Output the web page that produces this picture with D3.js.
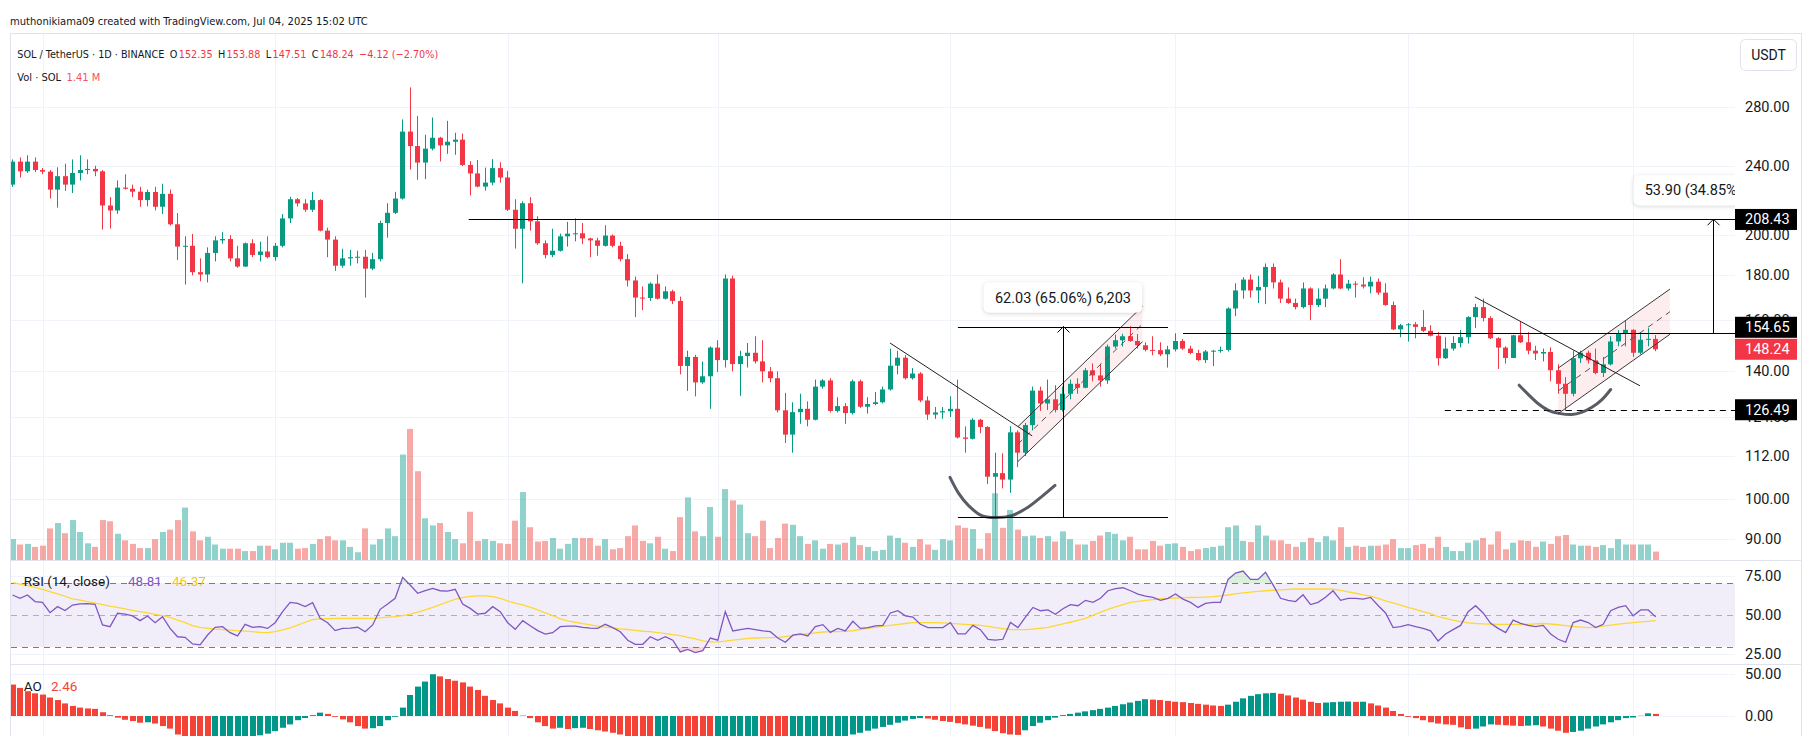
<!DOCTYPE html>
<html><head><meta charset="utf-8">
<script src="https://cdn.jsdelivr.net/npm/d3@7"></script>
<style>
body{margin:0;background:#fff;}
svg{display:block;font-family:Roboto,"Trebuchet MS",sans-serif;}
</style></head><body>
<svg id="c" width="1814" height="736"></svg>
<script>
// ---------------- DATA ----------------
const opens=[228.4,242.6,236.5,242.6,237.3,236.3,225.4,233.5,228.4,235.5,
237.3,238.0,236.5,216.2,213.4,226.6,225.9,224.2,219.3,224.0,
215.5,222.9,205.8,194.1,194.5,181.5,180.4,190.9,197.3,198.0,
188.2,184.2,195.8,189.9,191.6,188.8,194.5,209.0,219.8,217.4,
213.8,219.3,202.4,197.7,184.6,188.2,188.8,189.0,183.2,187.8,
206.5,212.1,220.2,262.5,252.7,242.0,251.0,258.3,253.2,255.6,
257.0,240.5,235.2,227.2,229.6,238.5,232.7,213.8,203.4,217.5,
207.4,195.8,189.9,192.0,199.4,200.8,201.0,198.3,197.3,194.5,
199.8,194.5,187.8,177.6,169.8,169.6,176.1,169.3,172.6,168.3,
141.9,145.3,135.9,138.1,148.9,144.1,178.5,142.6,145.6,146.9,
143.6,139.9,137.4,126.3,118.5,125.7,126.8,123.2,134.4,136.6,
126.1,127.7,125.4,136.3,127.5,128.4,129.0,133.4,142.0,145.0,
137.4,139.1,129.6,124.9,125.6,126.0,126.8,117.6,117.2,123.2,
120.9,106.1,107.1,105.3,119.2,113.0,121.5,133.0,128.6,130.0,
126.4,131.9,135.4,134.0,140.3,138.4,136.6,149.3,151.8,153.4,
151.5,149.8,148.0,147.9,146.3,148.2,151.5,148.5,146.8,144.1,
147.4,147.7,148.0,165.0,173.0,178.0,173.0,174.6,184.0,176.7,
169.3,167.4,165.6,173.9,166.5,169.3,173.9,180.4,173.9,176.1,
175.7,174.8,177.0,172.0,166.5,156.2,157.9,158.3,157.2,155.6,
153.6,144.8,148.5,150.7,153.0,161.3,165.6,160.9,152.6,148.9,
144.9,153.8,151.0,147.7,146.6,147.2,140.3,135.4,131.9,144.8,
146.9,144.0,139.3,142.5,151.3,154.3,156.0,146.9,152.0,152.35];
const highs=[244.0,245.3,246.7,245.3,238.6,237.3,239.0,241.3,244.0,246.7,
244.0,240.0,237.3,221.0,230.9,234.7,228.4,227.1,225.4,227.1,
228.9,225.4,212.0,199.4,200.6,188.2,193.7,199.4,201.6,200.0,
194.5,196.2,197.9,196.6,199.4,196.0,211.4,221.2,220.5,219.8,
224.1,219.8,204.0,199.4,193.0,192.4,192.0,192.4,190.9,207.7,
217.5,224.1,271.0,294.8,273.5,260.3,272.4,258.9,270.0,261.7,
261.1,242.9,243.6,238.8,244.2,242.2,236.8,219.8,218.6,221.0,
210.2,197.3,203.4,200.8,207.1,209.0,206.5,198.7,198.7,205.3,
200.4,196.6,190.3,179.4,174.8,176.7,180.4,174.8,173.3,170.2,
147.7,146.1,143.6,149.4,151.8,180.4,179.8,147.7,150.7,153.4,
151.8,141.5,139.9,132.2,129.0,131.9,129.3,136.9,137.1,137.4,
130.7,128.7,136.9,136.9,130.7,132.5,134.4,148.5,147.7,146.0,
141.1,139.6,131.0,127.4,127.4,131.0,136.9,121.1,123.7,123.5,
121.1,113.0,112.8,121.1,119.8,122.2,134.4,134.4,136.9,134.9,
134.4,136.9,137.4,141.1,142.8,142.8,150.1,154.0,154.4,157.5,
154.3,151.0,153.4,151.0,149.6,154.6,152.3,149.6,148.0,148.0,
148.0,149.3,165.5,176.3,179.1,180.4,179.8,185.7,185.7,178.0,
174.4,169.3,176.7,174.4,173.9,175.7,181.0,187.8,177.9,177.2,
179.1,179.4,178.5,176.3,168.0,158.4,158.8,159.2,164.3,157.9,
155.1,153.0,153.4,155.9,161.7,167.0,169.3,161.7,153.0,149.4,
154.0,159.5,155.1,149.6,148.5,149.0,142.5,137.8,147.7,147.7,
147.7,148.5,145.3,153.4,155.9,160.0,156.2,155.1,156.7,153.88];
const lows=[227.0,232.7,235.5,236.0,234.7,220.2,215.0,224.7,223.4,230.9,
234.7,233.5,202.9,203.5,211.5,225.4,221.0,215.5,215.7,213.4,
211.5,205.1,187.4,175.7,180.0,177.2,176.7,186.7,195.6,186.7,
183.6,184.0,188.8,186.7,188.2,187.0,193.7,206.5,215.6,212.6,
212.6,202.0,188.8,182.1,183.6,184.6,185.7,169.8,182.5,186.7,
198.7,211.4,219.6,237.6,231.3,231.7,249.9,242.7,247.6,247.0,
239.8,222.0,226.8,224.8,228.0,229.6,213.1,193.1,176.3,202.4,
195.0,188.2,188.8,191.6,194.1,196.8,195.4,188.8,189.5,194.1,
193.7,186.7,174.8,161.3,164.3,168.3,168.9,168.9,166.9,138.8,
132.9,131.0,135.4,126.8,139.6,141.3,139.9,131.2,141.3,142.8,
135.9,135.9,125.6,115.9,113.0,121.9,121.1,123.0,133.7,125.6,
125.6,121.9,124.9,127.1,125.2,128.0,128.6,133.0,138.8,136.9,
136.9,129.0,123.2,123.5,123.5,124.1,117.3,113.0,117.0,118.9,
104.1,95.3,102.9,101.7,108.8,112.0,119.8,126.1,126.4,125.6,
125.9,130.0,131.9,133.8,136.3,134.4,135.4,148.5,149.3,151.2,
148.5,147.4,145.9,145.6,141.3,147.4,148.0,146.3,143.8,143.0,
141.9,146.9,147.4,161.7,169.3,169.8,167.4,166.9,173.9,167.4,
167.0,164.6,165.0,160.0,165.6,165.6,173.5,173.5,173.0,169.8,
173.9,171.7,171.0,166.2,155.9,153.0,151.3,152.6,155.1,153.3,
142.0,144.5,147.7,149.0,150.5,156.7,159.5,152.3,140.8,142.8,
144.8,150.7,146.3,144.1,143.6,136.3,131.9,126.1,131.0,143.0,
142.8,138.8,137.8,142.1,149.4,149.4,145.3,146.3,149.4,147.51];
const closes=[242.6,236.5,242.6,237.3,236.3,225.4,233.5,228.4,235.5,237.3,
238.0,236.5,216.2,213.4,226.6,225.9,224.2,219.3,224.0,215.5,
222.9,205.8,194.1,194.5,181.5,180.4,190.9,197.3,198.0,188.2,
184.2,195.8,189.9,191.6,188.8,194.5,209.0,219.8,217.4,213.8,
219.3,202.4,197.7,184.6,188.2,188.8,189.0,183.2,187.8,206.5,
212.1,220.2,262.5,252.7,242.0,251.0,258.3,253.2,255.6,257.0,
240.5,235.2,227.2,229.6,238.5,232.7,213.8,203.4,217.5,207.4,
195.8,189.9,192.0,199.4,200.8,201.0,198.3,197.3,194.5,199.8,
194.5,187.8,177.6,169.8,169.6,176.1,169.3,172.6,168.3,141.9,
145.3,135.9,138.1,148.9,144.1,178.5,142.6,145.6,146.9,143.6,
139.9,137.4,126.3,118.5,125.7,126.8,123.2,134.4,136.6,126.1,
127.7,125.4,136.3,127.5,128.4,129.0,133.4,142.0,145.0,137.4,
139.1,129.6,124.9,125.6,126.0,126.8,117.6,117.2,123.2,120.9,
106.1,107.1,105.3,119.2,113.0,121.5,133.0,128.6,130.0,126.4,
131.9,135.4,134.0,140.3,138.4,136.6,149.3,151.8,153.4,151.5,
149.8,148.0,147.9,146.3,148.2,151.5,148.5,146.8,144.1,147.4,
147.7,148.0,165.0,173.0,178.0,173.0,174.6,184.0,176.7,169.3,
167.4,165.6,173.9,166.5,169.3,173.9,180.4,173.9,176.1,175.7,
174.8,177.0,172.0,166.5,156.2,157.9,158.3,157.2,155.6,153.6,
144.8,148.5,150.7,153.0,161.3,165.6,160.9,152.6,148.9,144.9,
153.8,151.0,147.7,146.6,147.2,140.3,135.4,131.9,144.8,146.9,
144.0,139.3,142.5,151.3,154.3,156.0,146.9,152.0,152.36,148.24];
const volumes=[3.5,2.6,2.7,2.2,2.4,5.3,6.2,4.5,6.7,4.7,
2.8,2.2,6.7,6.5,4.4,3.3,2.7,2.0,2.0,3.5,
4.7,5.1,6.7,8.8,4.8,3.3,3.9,2.6,1.9,1.9,
1.9,1.5,1.5,2.4,2.4,1.8,2.9,2.9,1.9,2.0,
2.7,3.5,4.0,3.3,3.3,2.2,1.3,5.3,2.6,3.5,
5.3,4.0,17.7,22.0,14.9,7.0,5.8,6.2,4.7,3.5,
2.8,8.1,3.2,3.5,3.2,2.8,2.7,6.6,11.4,5.5,
3.1,3.2,3.7,1.9,2.7,3.7,3.7,3.7,2.4,3.5,
1.8,2.0,4.0,5.8,3.2,2.8,3.9,1.9,1.5,7.2,
10.5,4.8,4.0,8.9,3.9,11.9,10.0,9.3,4.5,4.0,
6.6,2.0,3.7,6.1,5.9,4.0,2.7,3.3,1.9,2.7,
2.6,2.9,3.9,2.5,2.2,1.5,1.7,4.1,3.7,2.9,
2.2,3.5,2.6,1.7,3.5,3.3,5.8,5.4,5.2,1.9,
4.5,11.2,5.4,8.4,5.1,4.0,4.1,3.7,4.0,3.1,
4.8,3.5,2.6,2.6,3.2,4.1,4.7,4.4,3.3,3.9,
1.8,1.8,3.2,2.4,2.7,2.8,2.2,1.5,1.8,2.0,
2.2,2.4,5.5,5.8,3.2,3.0,5.8,4.1,3.3,3.3,
2.7,2.2,3.0,3.7,3.0,4.0,3.3,5.5,2.2,2.4,
2.2,2.4,2.4,2.6,3.5,2.0,2.0,2.5,2.7,2.0,
3.9,2.2,1.5,1.5,2.9,3.3,3.7,2.6,4.8,1.8,
2.9,3.3,3.2,2.2,3.1,2.7,4.0,4.2,2.6,2.4,
2.4,2.2,2.5,2.0,3.5,2.6,2.6,2.6,2.6,1.41];
const rsi=[62.7,60.6,62.7,58.5,58.0,51.5,55.3,52.8,56.3,57.0,
57.2,56.8,43.7,42.6,51.1,50.6,49.4,46.4,49.4,45.1,
48.9,41.5,36.2,35.8,31.6,31.1,37.3,42.2,42.6,38.8,
36.7,44.1,42.2,42.6,41.5,45.1,52.1,58.0,57.4,55.3,
57.8,47.9,45.1,40.1,41.5,41.7,42.2,39.4,43.7,53.6,
57.0,60.6,73.9,69.0,63.8,65.4,66.9,65.4,65.2,66.3,
57.0,54.2,50.6,51.1,55.3,52.1,45.1,40.9,46.4,43.2,
40.1,37.9,38.8,42.6,43.0,43.0,42.2,41.7,41.5,44.1,
42.0,39.4,34.0,31.4,31.4,36.2,34.0,36.2,34.0,26.6,
28.2,26.1,27.4,35.4,34.0,52.1,39.9,40.7,41.5,40.7,
39.9,39.4,35.4,32.7,37.2,38.0,36.7,42.6,43.9,39.0,
41.5,39.9,46.0,41.5,42.0,43.1,43.4,51.3,52.7,49.5,
48.7,44.1,42.0,42.0,42.0,45.2,38.0,38.0,43.4,40.7,
34.6,34.0,34.6,45.2,42.0,48.7,54.8,52.7,53.2,50.5,
54.0,56.6,55.9,59.3,58.0,60.6,65.4,66.8,67.3,65.4,
63.3,62.0,61.2,59.3,60.6,63.3,60.1,58.0,54.8,57.4,
58.0,58.0,72.6,76.6,77.9,72.6,72.6,77.1,69.1,60.6,
59.3,58.5,62.8,56.6,58.0,61.2,65.4,59.3,60.6,60.6,
60.1,61.2,56.0,51.3,42.0,42.6,43.9,42.6,41.5,39.9,
33.5,38.0,40.7,43.4,52.1,55.9,51.3,44.7,41.5,38.8,
46.8,44.7,43.4,42.6,43.4,38.0,34.6,32.7,45.2,46.8,
45.2,42.0,44.1,52.7,54.8,55.9,49.5,53.2,53.2,48.81];
const rsiMA=[70.5,69.6,68.7,67.6,66.2,64.8,63.4,61.9,60.3,59.4,
58.5,57.6,56.6,55.6,54.8,53.9,53.0,52.1,51.3,50.4,
49.6,48.5,46.8,45.1,43.2,42.2,41.6,41.1,40.7,40.4,
40.1,39.8,39.4,39.0,38.8,39.4,40.6,41.8,43.6,45.4,
47.0,47.5,47.7,47.8,47.9,47.9,47.9,47.9,47.9,48.2,
48.6,49.0,49.6,50.6,51.8,53.2,54.8,56.6,58.3,59.9,
61.0,61.8,62.1,62.1,61.7,60.5,58.9,57.6,56.5,55.0,
53.3,51.4,49.6,47.5,46.3,45.4,44.5,43.8,43.0,42.3,
41.8,41.2,40.8,40.2,39.7,39.4,38.8,38.2,37.5,36.9,
35.8,34.8,33.6,32.9,32.9,33.4,34.0,34.6,35.2,35.4,
35.5,35.6,35.8,36.3,36.9,37.5,38.1,38.6,39.2,39.5,
39.4,39.6,40.0,40.8,41.5,42.2,42.8,43.4,44.0,44.6,
45.1,45.2,45.2,45.2,45.0,44.7,44.4,44.1,43.8,43.4,
42.8,42.0,41.3,40.8,40.7,40.7,41.1,41.6,42.2,43.2,
44.3,45.4,46.6,47.8,49.8,51.8,53.5,55.1,56.6,58.0,
58.7,59.3,59.8,60.3,60.6,60.8,61.0,61.1,61.2,61.4,
61.7,62.2,62.7,63.4,64.0,64.5,65.0,65.4,65.7,66.0,
66.3,66.5,66.5,66.5,66.5,66.5,66.4,65.6,64.7,63.8,
62.8,62.0,60.6,59.0,57.7,56.3,54.8,53.6,52.2,50.8,
49.0,47.8,46.7,45.8,45.0,44.6,44.4,44.2,44.1,44.0,
44.0,43.9,44.1,44.4,44.6,44.3,43.8,43.2,42.7,42.3,
42.0,42.3,43.0,43.6,44.2,44.7,45.2,45.7,46.0,46.37];
const ao=[37.4,33.5,29.5,27,25.5,22,19,15,12,10,
9,8.5,4.5,1,-2,-4.5,-6,-8,-7.5,-9,
-12,-15,-22,-28,-33,-37,-39,-38.5,-36,-34,
-32,-29,-26,-23,-21,-18,-14,-10,-5,-2.4,
1,4,2.5,-1,-4,-7.5,-12,-15,-14.5,-12,
-5,-1,10,25,35,41,49.7,47.2,44,42,
40,35,31,24,19,15,10,6,0.5,-2.5,
-7.5,-12,-15,-14,-15.5,-14.5,-14,-15.5,-17,-18.5,
-20,-22,-24,-27,-29,-31,-30,-29,-28.5,-30,
-33,-36,-38,-40,-39,-37,-36,-35,-34,-33.5,
-34.5,-35,-36.5,-38,-37,-36,-35,-33,-31,-29,
-27,-24.5,-22,-20,-17.5,-15,-13,-10.5,-8,-5.5,
-3.5,-2.5,-3,-4.5,-6,-7,-8.5,-10,-11.5,-13,
-15,-18,-20.5,-22,-22.5,-17,-12,-8,-5,-2,
1,2.5,4,5.5,7,8.5,10,12,14,16,
18,20,19.5,19,18,17,16.5,15.5,14.5,13.5,
12.5,12,13.5,17,21,24,26,27,27.5,26.5,
24.5,22,19.5,17,15.5,16,16.5,17,17.2,16.8,
17,15,12.5,10,6,2.5,-1,-2.5,-5,-7.5,
-9,-10,-10.5,-13.5,-15.5,-15,-12.5,-10,-10.5,-11,
-11.5,-12,-11.5,-11,-12.5,-15,-17.5,-20,-19,-17.5,
-15,-12.5,-10,-7.5,-5,-2.5,-1.8,0.3,3.2,2.46];

const priceTicks=[280,240,200,180,160,140,124,112,100,90];
const rsiTicks=[75,50,25];
const rsiLevels=[70,50,30];
const aoTicks=[50,0];
const monthStartIdx=[4,35,66,94,125,155,186,216];

// drawings (in data coordinates: bar index, price)
const hRays=[{price:208.43,from:60.8,dash:null},{price:154.65,from:156.0,dash:null},{price:126.49,from:190.9,dash:"6,5"}];
const trendLines=[{i0:116.95,p0:150.7,i1:135.9,p1:118.1},{i0:194.9,p0:170.1,i1:216.9,p1:134.7}];
const channels=[{i0:134.0,i1:150.6,up0:121.0,up1:165.9,lo0:110.4,lo1:151.2},
                {i0:206.0,i1:220.9,up0:141.1,up1:173.6,lo0:125.2,lo1:154.2}];
const arc1=[[124.95,105.9],[126.06,101.7],[127.39,98.4],[129.17,95.8],[130.95,95.3],[133.17,95.8],[135.39,98.0],[137.17,100.7],[138.94,103.7]];
const arc2=[[200.8,134.9],[202.0,131.7],[203.4,128.4],[204.7,126.3],[206.3,125.2],[207.8,124.9],[209.1,125.6],[210.5,127.3],[211.8,129.8],[213.0,133.4]];
const measures=[{i0:126.0,i1:154.0,ia:140.0,bottom:95.34,top:157.37,lines:true},
                {i0:null,i1:null,ia:226.6,bottom:154.65,top:208.55,lines:false}];

// ---------------- LAYOUT ----------------
const W=1814,H=736;
const plotL=11,plotR=1735;
const priceTop=33,priceBot=560,rsiTop=560,rsiBot=664,aoTop=664,aoBot=736;
const axisX=1745;
const txt="#131722", grid="#f0f3fa", sep="#e0e3eb";
const upC="#089981", dnC="#F23645";

// pick a narrow face for the header if one is installed
function hasFont(name){
  const c=document.createElement("canvas").getContext("2d");
  const s="abcdefghijklmnopqrstuvwxyz0123456789ABCDEF";
  c.font="20px monospace";const w1=c.measureText(s).width;
  c.font=`20px "${name}", monospace`;const w2=c.measureText(s).width;
  c.font="20px serif";const w3=c.measureText(s).width;
  c.font=`20px "${name}", serif`;const w4=c.measureText(s).width;
  return w1!==w2||w3!==w4;
}
const narrowFace=["Liberation Sans Narrow","DejaVu Sans Condensed","Arial Narrow"].find(hasFont);
const headFont=narrowFace?`"${narrowFace}",Roboto,sans-serif`:"Roboto,sans-serif";

const svg=d3.select("#c");
const defs=svg.append("defs");
function clip(id,y0,y1){defs.append("clipPath").attr("id",id).append("rect")
  .attr("x",plotL).attr("y",y0).attr("width",plotR-plotL).attr("height",y1-y0);}
clip("cp",priceTop,priceBot);clip("cr",rsiTop,rsiBot);clip("ca",aoTop,aoBot);
const f=defs.append("filter").attr("id","sh").attr("x","-20%").attr("y","-40%").attr("width","140%").attr("height","180%");
f.append("feDropShadow").attr("dx",0).attr("dy",1).attr("stdDeviation",2).attr("flood-color","#000").attr("flood-opacity",0.18);

const n=closes.length, idx=d3.range(n);
const x=d3.scaleLinear().domain([0,n-1]).range([12.5,1655.7]);
const yP=d3.scaleLog().domain([90,280]).range([539.4,107]);
const yV=d3.scaleLinear().domain([0,22]).range([priceBot,priceBot-131.1]);
const yR=d3.scaleLinear().domain([25,75]).range([654.4,575.6]);
const yA=d3.scaleLinear().domain([0,50]).range([716,674]);

svg.append("rect").attr("width",W).attr("height",H).attr("fill","#fff");

// grid
const g0=svg.append("g");
g0.selectAll(".vg").data(monthStartIdx).join("line").attr("class","vg")
  .attr("x1",d=>Math.round(x(d))+0.5).attr("x2",d=>Math.round(x(d))+0.5)
  .attr("y1",priceTop).attr("y2",H).attr("stroke",grid);
g0.selectAll(".hg").data(priceTicks).join("line").attr("class","hg")
  .attr("x1",plotL).attr("x2",plotR).attr("y1",d=>Math.round(yP(d))+0.5).attr("y2",d=>Math.round(yP(d))+0.5).attr("stroke",grid);
g0.selectAll(".rg").data([75,25]).join("line").attr("class","rg")
  .attr("x1",plotL).attr("x2",plotR).attr("y1",d=>Math.round(yR(d))+0.5).attr("y2",d=>Math.round(yR(d))+0.5).attr("stroke",grid);
g0.selectAll(".ag").data(aoTicks).join("line").attr("class","ag")
  .attr("x1",plotL).attr("x2",plotR).attr("y1",d=>Math.round(yA(d))+0.5).attr("y2",d=>Math.round(yA(d))+0.5).attr("stroke",grid);

// frame + separators
svg.append("rect").attr("x",10.5).attr("y",33.5).attr("width",1791).attr("height",720).attr("fill","none").attr("stroke",sep);
svg.selectAll(".sep").data([rsiTop,aoTop]).join("line").attr("class","sep")
  .attr("x1",10).attr("x2",1801).attr("y1",d=>d+0.5).attr("y2",d=>d+0.5).attr("stroke",sep);

const isUp=i=>closes[i]>=opens[i];

// volume
const pg=svg.append("g").attr("clip-path","url(#cp)");
pg.selectAll(".vol").data(idx).join("rect").attr("class","vol")
  .attr("x",i=>Math.round(x(i)-3)).attr("width",6)
  .attr("y",i=>yV(volumes[i])).attr("height",i=>priceBot-yV(volumes[i]))
  .attr("fill",i=>isUp(i)?"rgba(38,166,154,0.5)":"rgba(239,83,80,0.5)");

// channel fills
pg.selectAll(".chf").data(channels).join("path").attr("class","chf")
  .attr("d",c=>`M${x(c.i0)},${yP(c.up0)}L${x(c.i1)},${yP(c.up1)}L${x(c.i1)},${yP(c.lo1)}L${x(c.i0)},${yP(c.lo0)}Z`)
  .attr("fill","rgba(242,54,69,0.09)");

// candles
pg.selectAll(".wk").data(idx).join("line").attr("class","wk")
  .attr("x1",i=>Math.round(x(i)-2.5)+2.5).attr("x2",i=>Math.round(x(i)-2.5)+2.5)
  .attr("y1",i=>yP(highs[i])).attr("y2",i=>yP(lows[i]))
  .attr("stroke",i=>isUp(i)?upC:dnC).attr("stroke-width",1);
pg.selectAll(".bd").data(idx).join("rect").attr("class","bd")
  .attr("x",i=>Math.round(x(i)-2.5)).attr("width",5)
  .attr("y",i=>yP(Math.max(opens[i],closes[i])))
  .attr("height",i=>Math.max(1,yP(Math.min(opens[i],closes[i]))-yP(Math.max(opens[i],closes[i]))))
  .attr("fill",i=>isUp(i)?upC:dnC);

// channel lines
channels.forEach(c=>{
  const a=[x(c.i0),yP(c.up0)],b=[x(c.i1),yP(c.up1)],d=[x(c.i0),yP(c.lo0)],e=[x(c.i1),yP(c.lo1)];
  pg.append("line").attr("x1",a[0]).attr("y1",a[1]).attr("x2",b[0]).attr("y2",b[1]).attr("stroke","#3a3a3a").attr("stroke-width",1);
  pg.append("line").attr("x1",d[0]).attr("y1",d[1]).attr("x2",e[0]).attr("y2",e[1]).attr("stroke","#3a3a3a").attr("stroke-width",1);
  pg.append("line").attr("x1",a[0]).attr("y1",(a[1]+d[1])/2).attr("x2",b[0]).attr("y2",(b[1]+e[1])/2)
    .attr("stroke","#555").attr("stroke-width",1).attr("stroke-dasharray","6,5");
});
// trend lines
pg.selectAll(".tl").data(trendLines).join("line").attr("class","tl")
  .attr("x1",d=>x(d.i0)).attr("y1",d=>yP(d.p0)).attr("x2",d=>x(d.i1)).attr("y2",d=>yP(d.p1))
  .attr("stroke","#222").attr("stroke-width",1);
// horizontal rays
pg.selectAll(".hr").data(hRays).join("line").attr("class","hr")
  .attr("x1",d=>x(d.from)).attr("x2",plotR).attr("y1",d=>Math.round(yP(d.price))+0.5).attr("y2",d=>Math.round(yP(d.price))+0.5)
  .attr("stroke","#000").attr("stroke-width",1.2).attr("stroke-dasharray",d=>d.dash);
// brush arcs
const arcLine=d3.line().x(d=>x(d[0])).y(d=>yP(d[1])).curve(d3.curveCatmullRom);
pg.selectAll(".arc").data([arc1,arc2]).join("path").attr("class","arc").attr("d",arcLine)
  .attr("fill","none").attr("stroke","#2a2e39").attr("stroke-width",3).attr("stroke-linecap","round").attr("opacity",0.78);

// measures
const fmtC=d3.format(",");
measures.forEach(m=>{
  const ax=x(m.ia), yt=yP(m.top), yb=yP(m.bottom);
  if(m.lines){
    pg.append("line").attr("x1",x(m.i0)).attr("x2",x(m.i1)).attr("y1",Math.round(yt)+0.5).attr("y2",Math.round(yt)+0.5).attr("stroke","#000");
    pg.append("line").attr("x1",x(m.i0)).attr("x2",x(m.i1)).attr("y1",Math.round(yb)+0.5).attr("y2",Math.round(yb)+0.5).attr("stroke","#000");
  }
  pg.append("line").attr("x1",Math.round(ax)+0.5).attr("x2",Math.round(ax)+0.5).attr("y1",yb).attr("y2",yt).attr("stroke","#000");
  pg.append("path").attr("d",`M${Math.round(ax)+0.5-6},${yt+6}L${Math.round(ax)+0.5},${yt}L${Math.round(ax)+0.5+6},${yt+6}`)
    .attr("fill","none").attr("stroke","#000");
  const diff=m.top-m.bottom;
  const label=`${diff.toFixed(2)} (${(diff/m.bottom*100).toFixed(2)}%) ${fmtC(Math.round(diff*100))}`;
  const bg=pg.append("g");
  const t=bg.append("text").attr("x",ax).attr("y",yt-14-15+5).attr("text-anchor","middle")
    .attr("font-size",14.5).attr("fill",txt).text(label);
  const w=t.node().getComputedTextLength()+22;
  bg.insert("rect","text").attr("x",ax-w/2).attr("y",yt-14-30).attr("width",w).attr("height",30).attr("rx",5)
    .attr("fill","#fff").attr("filter","url(#sh)");
});

// RSI pane
const rg=svg.append("g").attr("clip-path","url(#cr)");
rg.append("rect").attr("x",plotL).attr("width",plotR-plotL).attr("y",yR(70)).attr("height",yR(30)-yR(70)).attr("fill","rgba(126,87,194,0.1)");
rg.selectAll(".lvl").data(rsiLevels).join("line").attr("class","lvl")
  .attr("x1",plotL).attr("x2",plotR).attr("y1",d=>Math.round(yR(d))+0.5).attr("y2",d=>Math.round(yR(d))+0.5)
  .attr("stroke",d=>d===50?"rgba(120,123,134,0.55)":"#787B86").attr("stroke-dasharray","6,5");
defs.append("clipPath").attr("id","ob").append("rect").attr("x",plotL).attr("y",rsiTop).attr("width",plotR-plotL).attr("height",yR(70)-rsiTop);
defs.append("clipPath").attr("id","os").append("rect").attr("x",plotL).attr("y",yR(30)).attr("width",plotR-plotL).attr("height",rsiBot-yR(30));
rg.append("path").datum(idx).attr("clip-path","url(#ob)")
  .attr("d",d3.area().x(i=>x(i)).y0(yR(70)).y1(i=>yR(rsi[i]))).attr("fill","rgba(76,175,80,0.2)");
rg.append("path").datum(idx).attr("clip-path","url(#os)")
  .attr("d",d3.area().x(i=>x(i)).y0(yR(30)).y1(i=>yR(rsi[i]))).attr("fill","rgba(242,54,69,0.2)");
rg.append("path").datum(idx).attr("d",d3.line().x(i=>x(i)).y(i=>yR(rsiMA[i])))
  .attr("fill","none").attr("stroke","#FDD835").attr("stroke-width",1.3);
rg.append("path").datum(idx).attr("d",d3.line().x(i=>x(i)).y(i=>yR(rsi[i])))
  .attr("fill","none").attr("stroke","#7E57C2").attr("stroke-width",1.3);

// AO pane
const ag=svg.append("g").attr("clip-path","url(#ca)");
ag.selectAll(".ao").data(idx).join("rect").attr("class","ao")
  .attr("x",i=>Math.round(x(i)-3)).attr("width",6)
  .attr("y",i=>Math.min(yA(ao[i]),yA(0))).attr("height",i=>Math.abs(yA(ao[i])-yA(0)))
  .attr("fill",i=>(i===0?false:ao[i]>=ao[i-1])?"#009688":"#F44336");

// ---------------- TEXT ----------------
function T(s,xx,yy,opt={}){
  const t=svg.append("text").attr("x",xx).attr("y",yy).attr("font-size",opt.fs||14).attr("fill",opt.c||txt).text(s);
  if(opt.family)t.attr("font-family",opt.family);
  if(opt.anchor)t.attr("text-anchor",opt.anchor);
  return t;
}
// sequential header line: separate texts, font size fitted so the line spans its width
function seq(segs,x0,yy,targetW,maxFs){
  const g=svg.append("g");
  function lay(fs){
    g.selectAll("*").remove();
    let cx=x0;
    segs.forEach((s,k)=>{
      const t=g.append("text").attr("x",cx).attr("y",yy).attr("font-size",fs).attr("font-family",headFont)
        .attr("fill",s.c||txt).text(s.s);
      cx+=t.node().getComputedTextLength()+(k<segs.length-1?(s.gap||0)*fs/12:0);
    });
    return cx-x0;
  }
  const w=lay(12);
  lay(Math.min(maxFs,12*targetW/w));
}
seq([{s:"muthonikiama09 created with TradingView.com, Jul 04, 2025 15:02 UTC"}],10,25,358,14.5);
const L=n-1, chg=closes[L]-closes[L-1], pct=chg/closes[L-1]*100;
const legC=closes[L]>=opens[L]?upC:dnC;
const fm=v=>v.toFixed(2).replace("-","\u2212");
seq([{s:"SOL / TetherUS \u00b7 1D \u00b7 BINANCE",gap:6},
     {s:"O",gap:1.5},{s:opens[L].toFixed(2),c:legC,gap:6},
     {s:"H",gap:1.5},{s:highs[L].toFixed(2),c:legC,gap:6},
     {s:"L",gap:1.5},{s:lows[L].toFixed(2),c:legC,gap:6},
     {s:"C",gap:1.5},{s:closes[L].toFixed(2),c:legC,gap:6},
     {s:`${fm(chg)} (${fm(pct)}%)`,c:legC}],17.3,57.5,421,14.5);
seq([{s:"Vol \u00b7 SOL",gap:6},{s:`${volumes[L].toFixed(2)} M`,c:"#F7525F"}],17.3,81,83,14.5);

T("RSI (14, close)",23.8,585.5,{fs:13.5});
T(rsi[L].toFixed(2),128,585.5,{fs:13.5,c:"#7E57C2"});
T(rsiMA[L].toFixed(2),172,585.5,{fs:13.5,c:"#F2C811"});
T("AO",23.8,690.5,{fs:13.5});
T(ao[L].toFixed(2),51,690.5,{fs:13.5,c:(ao[L]>=ao[L-1])?"#009688":"#F44336"});

// axis labels
priceTicks.forEach(p=>T(p.toFixed(2),axisX,yP(p)+5,{fs:14.5}));
rsiTicks.forEach(p=>T(p.toFixed(2),axisX,yR(p)+5,{fs:14.5}));
aoTicks.forEach(p=>T(p.toFixed(2),axisX,yA(p)+5,{fs:14.5}));

// price label boxes with simple overlap resolution
const boxes=[{v:208.43,bg:"#000"},{v:154.65,bg:"#000"},{v:closes[L],bg:dnC},{v:126.49,bg:"#000"}]
  .map(b=>({...b,y:yP(b.v)})).sort((a,b)=>b.y-a.y);
for(let k=1;k<boxes.length;k++){ if(boxes[k-1].y-boxes[k].y<22) boxes[k].y=boxes[k-1].y-22; }
boxes.forEach(b=>{
  svg.append("rect").attr("x",1735).attr("y",b.y-10.5).attr("width",62).attr("height",21).attr("fill",b.bg);
  T(b.v.toFixed(2),axisX,b.y+5,{fs:14.5,c:"#fff"});
});

// USDT button
svg.append("rect").attr("x",1740.5).attr("y",39.5).attr("width",56).attr("height",31).attr("rx",5).attr("fill","#fff").attr("stroke",sep);
T("USDT",1768.5,60,{fs:14,anchor:"middle"});
</script>
</body></html>
